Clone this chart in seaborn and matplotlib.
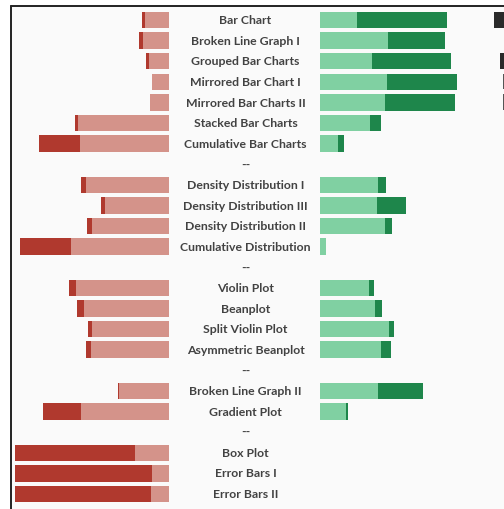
import numpy as np
import pandas as pd
import matplotlib
matplotlib.use("Agg")
import matplotlib.pyplot as plt
from matplotlib.patches import Rectangle
import seaborn as sns

# Chart types grouped by family; "--" rows are spacers between groups
categories = [
    "Bar Chart", "Broken Line Graph I", "Grouped Bar Charts", "Mirrored Bar Chart I",
    "Mirrored Bar Charts II", "Stacked Bar Charts", "Cumulative Bar Charts", "--",
    "Density Distribution I", "Density Distribution III", "Density Distribution II",
    "Cumulative Distribution", "--",
    "Violin Plot", "Beanplot", "Split Violin Plot", "Asymmetric Beanplot", "--",
    "Broken Line Graph II", "Gradient Plot", "--",
    "Box Plot", "Error Bars I", "Error Bars II",
]

# Share of responses (%) per answer level; spacer rows are zero
strong_neg = [2.3, 2.4, 2.1, 0.0, 0.0, 2.1, 26.8, 0,
              3.4, 2.4, 3.4, 33.1, 0,
              5.0, 4.7, 2.4, 3.4, 0,
              1.0, 25.1, 0,
              77.7, 88.8, 88.5]
weak_neg = [15.4, 16.8, 12.9, 11.2, 12.5, 58.8, 57.7, 0,
            53.8, 41.8, 50.0, 63.5, 0,
            60.1, 55.1, 49.9, 50.5, 0,
            32.4, 56.9, 0,
            22.3, 11.2, 11.5]
weak_pos = [23.7, 44.1, 33.7, 43.5, 41.7, 32.5, 11.2, 0,
            37.2, 36.5, 42.1, 3.4, 0,
            31.5, 35.5, 44.3, 39.2, 0,
            37.7, 16.6, 0,
            0.0, 0.0, 0.0]
strong_pos = [58.6, 36.7, 51.3, 45.3, 45.8, 6.6, 4.3, 0,
              5.6, 19.3, 4.5, 0.0, 0,
              3.4, 4.7, 3.4, 6.9, 0,
              28.9, 1.4, 0,
              0.0, 0.0, 0.0]

RED_DARK, RED_LIGHT = "#b0392e", "#d4938a"
GREEN_LIGHT, GREEN_DARK = "#80d0a2", "#1e864b"

sns.set_theme(style="white")
plt.rcParams["font.family"] = ["Lato", "DejaVu Sans"]

df = pd.DataFrame({
    "row": [str(i) for i in range(len(categories))],
    "label": categories,
    "neg_total": np.array(strong_neg) + np.array(weak_neg),
    "neg_weak": weak_neg,
    "pos_total": np.array(weak_pos) + np.array(strong_pos),
    "pos_weak": weak_pos,
})

W, H = 504, 509
fig = plt.figure(figsize=(W / 100, H / 100), dpi=100)
fig.patch.set_facecolor("white")

# panel background with frame on top and left
fig.patches.append(Rectangle((10.5 / W, 0), 1, (H - 5.5) / H, transform=fig.transFigure,
                             facecolor="#fafafa", edgecolor="none", zorder=-5))
fig.add_artist(plt.Line2D([10.5 / W, 1], [(H - 5.5) / H] * 2, transform=fig.transFigure,
                          color="#222222", lw=1.4, zorder=5))
fig.add_artist(plt.Line2D([10.5 / W] * 2, [0, (H - 5.5) / H], transform=fig.transFigure,
                          color="#222222", lw=1.4, zorder=5))

n = len(categories)
bottom = 4.7 / H
height = 494.6 / H
ax_l = fig.add_axes([15 / W, bottom, 154 / W, height])
ax_r = fig.add_axes([320.3 / W, bottom, 154 / W, height])

order = df["row"].tolist()
for ax, total, weak, c_dark, c_light in [
    (ax_l, "neg_total", "neg_weak", RED_DARK, RED_LIGHT),
    (ax_r, "pos_total", "pos_weak", GREEN_DARK, GREEN_LIGHT),
]:
    sns.barplot(data=df, x=total, y="row", order=order, color=c_dark,
                orient="h", width=0.8, saturation=1, ax=ax, linewidth=0)
    sns.barplot(data=df, x=weak, y="row", order=order, color=c_light,
                orient="h", width=0.8, saturation=1, ax=ax, linewidth=0)
    ax.set_ylim(n - 0.5, -0.5)
    ax.set_axis_off()

ax_l.set_xlim(100, 0)
ax_r.set_xlim(0, 100)

# category labels centred between the two halves
for i, lab in enumerate(categories):
    fig.text(245.5 / W, bottom + height * (1 - (i + 0.5) / n) - 0.6 / H, lab,
             ha="center", va="center", fontsize=8.8, color="#424242",
             fontweight="bold", zorder=6)

# legend swatches running off the right edge
for x0, y0, w, h, col in [(494, 12, 12, 16, "#2a2a2a"), (500, 53, 8, 16, "#2a2a2a"),
                          (503, 74, 4, 15, "#555555"), (503, 94, 4, 16, "#555555")]:
    fig.patches.append(Rectangle((x0 / W, (H - y0 - h) / H), w / W, h / H,
                                 transform=fig.transFigure, facecolor=col,
                                 edgecolor="none", zorder=6))

fig.savefig("out.png", dpi=100, facecolor="white")
